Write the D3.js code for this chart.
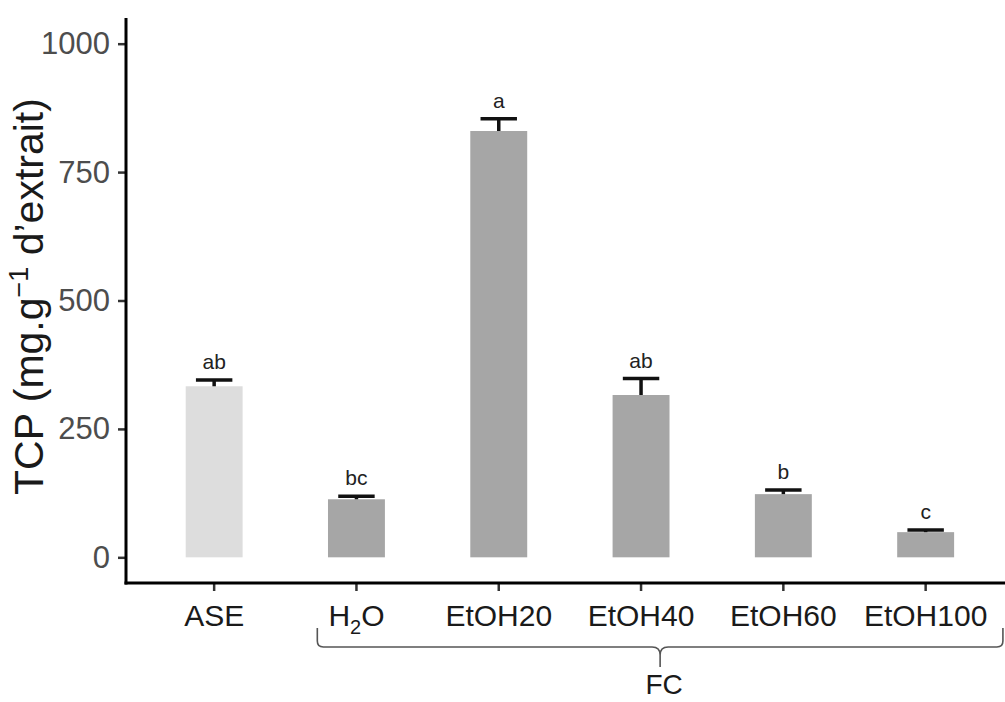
<!DOCTYPE html>
<html>
<head>
<meta charset="utf-8">
<script src="https://cdn.jsdelivr.net/npm/d3@7"></script>
<style>
  html, body { margin: 0; padding: 0; background: #fff; }
  svg { display: block; }
</style>
</head>
<body>
<svg id="chart" width="1005" height="702"></svg>
<script>
// ---- data ----
const categories = ["ASE", "H2O", "EtOH20", "EtOH40", "EtOH60", "EtOH100"];
const means      = [333, 113, 830, 316, 123, 49];
const upperErr   = [345, 119, 854, 348, 131, 53];
const letters    = ["ab", "bc", "a", "ab", "b", "c"];
const yTicks     = [0, 250, 500, 750, 1000];
const groupLabel = "FC";
const groupMembers = ["H2O", "EtOH20", "EtOH40", "EtOH60", "EtOH100"];

// ---- layout ----
const W = 1005, H = 702;
const axisX = 126, axisBottom = 583, axisTop = 18;
const svg = d3.select("#chart");

const y = d3.scaleLinear().domain([-50, 1050]).range([axisBottom, axisTop]);
const x = d3.scaleBand().domain(categories).range([143, 996.8])
  .paddingInner(0.6).paddingOuter(0.3);
const step = x.step();
const cx = d => x(d) + x.bandwidth() / 2;

const labelFont = "'Liberation Sans', Arial, sans-serif";

// bars
svg.append("g").selectAll("rect").data(categories).join("rect")
  .attr("x", d => x(d))
  .attr("width", x.bandwidth())
  .attr("y", (d, i) => y(means[i]))
  .attr("height", (d, i) => y(0) - y(means[i]))
  .attr("fill", (d, i) => i === 0 ? "#dddddd" : "#a6a6a6");

// error bars (upper)
const eb = svg.append("g").attr("stroke", "#111").attr("stroke-width", 3.5);
categories.forEach((d, i) => {
  eb.append("line").attr("x1", cx(d)).attr("x2", cx(d))
    .attr("y1", y(means[i])).attr("y2", y(upperErr[i]));
  eb.append("line").attr("x1", cx(d) - step * 0.128).attr("x2", cx(d) + step * 0.128)
    .attr("y1", y(upperErr[i])).attr("y2", y(upperErr[i]));
});

// significance letters
svg.append("g").selectAll("text").data(categories).join("text")
  .attr("x", d => cx(d))
  .attr("y", (d, i) => y(upperErr[i]) - 11)
  .attr("text-anchor", "middle")
  .attr("font-family", labelFont)
  .attr("font-size", 21)
  .attr("fill", "#222")
  .text((d, i) => letters[i]);

// y axis
const yAxis = d3.axisLeft(y).tickValues(yTicks).tickFormat(d3.format("d"))
  .tickSize(8).tickSizeOuter(0).tickPadding(8);
const gy = svg.append("g").attr("transform", `translate(${axisX},0)`).call(yAxis);
gy.select(".domain").remove();
gy.selectAll(".tick line").attr("stroke", "#333").attr("stroke-width", 2.5);
gy.selectAll(".tick text").attr("font-family", labelFont).attr("font-size", 31)
  .attr("fill", "#4d4d4d");
svg.append("line").attr("x1", axisX).attr("x2", axisX)
  .attr("y1", axisTop).attr("y2", axisBottom + 1.5)
  .attr("stroke", "#000").attr("stroke-width", 3);

// x axis
const xAxis = d3.axisBottom(x).tickSize(8).tickSizeOuter(0).tickPadding(12).tickFormat(() => "");
const gx = svg.append("g").attr("transform", `translate(0,${axisBottom})`).call(xAxis);
gx.select(".domain").remove();
gx.selectAll(".tick line").attr("stroke", "#333").attr("stroke-width", 2.5);
svg.append("line").attr("x1", axisX - 1.5).attr("x2", W)
  .attr("y1", axisBottom).attr("y2", axisBottom)
  .attr("stroke", "#000").attr("stroke-width", 3);

// x labels
const xl = svg.append("g").attr("font-family", labelFont).attr("font-size", 30)
  .attr("fill", "#1a1a1a").attr("text-anchor", "middle");
categories.forEach(d => {
  const t = xl.append("text").attr("x", cx(d)).attr("y", axisBottom + 43);
  if (d === "H2O") {
    t.append("tspan").text("H");
    t.append("tspan").attr("font-size", 20).attr("dy", 8).text("2");
    t.append("tspan").attr("dy", -8).text("O");
  } else {
    t.text(d);
  }
});

// brace under FC group
const bl = cx(groupMembers[0]) - step * 0.275;
const br = cx(groupMembers[groupMembers.length - 1]) + step * 0.543;
const bm = (bl + br) / 2;
const bTop = 628, bY = 647, bTip = 667, r = 6;
const brace = d3.path();
brace.moveTo(bl, bTop);
brace.lineTo(bl, bY - r);
brace.quadraticCurveTo(bl, bY, bl + r, bY);
brace.lineTo(bm - 8, bY);
brace.quadraticCurveTo(bm, bY, bm, bY + 8);
brace.lineTo(bm, bTip);
brace.moveTo(br, bTop);
brace.lineTo(br, bY - r);
brace.quadraticCurveTo(br, bY, br - r, bY);
brace.lineTo(bm + 8, bY);
brace.quadraticCurveTo(bm, bY, bm, bY + 8);
svg.append("path").attr("d", brace.toString()).attr("fill", "none")
  .attr("stroke", "#555").attr("stroke-width", 1.6);

svg.append("text").attr("x", bm + 4).attr("y", 694)
  .attr("text-anchor", "middle").attr("font-family", labelFont)
  .attr("font-size", 28).attr("fill", "#1a1a1a").text(groupLabel);

// y title
const yt = svg.append("text")
  .attr("transform", `translate(43,${(y(0) + y(1000)) / 2 - 4}) rotate(-90)`)
  .attr("text-anchor", "middle").attr("font-family", labelFont)
  .attr("font-size", 41).attr("fill", "#1a1a1a");
yt.append("tspan").text("TCP (mg.g");
yt.append("tspan").attr("font-size", 27).attr("dy", -15).text("\u22121");
yt.append("tspan").attr("dy", 15).text(" d\u2019extrait)");
</script>
</body>
</html>
